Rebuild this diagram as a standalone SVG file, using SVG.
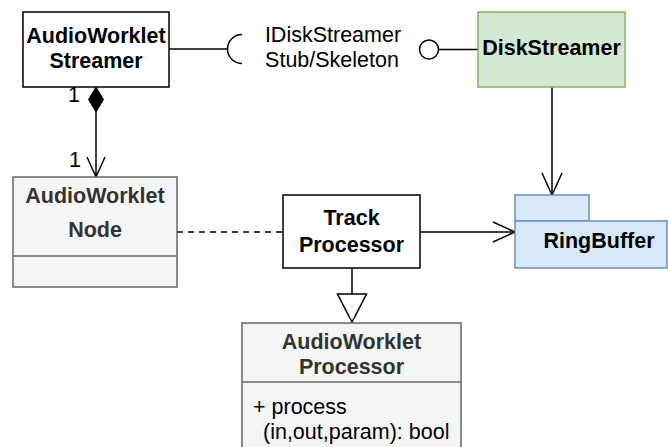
<svg xmlns="http://www.w3.org/2000/svg" width="668" height="447" viewBox="0 0 668 447">
  <style>
    text { font-family: "Liberation Sans", Arial, Helvetica, sans-serif; font-size: 21.5px; fill: #000; }
    .b { font-weight: bold; }
    .c { text-anchor: middle; }
    .grey { fill: #333333; }
    .box { fill: #ffffff; stroke: #000; stroke-width: 1.5; }
    .uml { fill: #f5f5f5; stroke: #666666; stroke-width: 1.5; }
    .green { fill: #d5e8d4; stroke: #82b366; stroke-width: 1.5; }
    .blue { fill: #dae8fc; stroke: #6c8ebf; stroke-width: 1.5; }
    .ln { fill: none; stroke: #000; stroke-width: 1.5; }
  </style>
  <rect width="668" height="447" fill="#ffffff"/>

  <!-- connectors -->
  <g id="connectors">
    <!-- required interface (socket) -->
    <line class="ln" x1="169" y1="49" x2="227" y2="49"/>
    <path class="ln" d="M242,34.5 A14.5,14.5 0 0 0 242,63.5"/>
    <!-- provided interface (lollipop) -->
    <circle class="ln" cx="429" cy="49.5" r="9.5" fill="#fff"/>
    <line class="ln" x1="438.5" y1="49.5" x2="478" y2="49.5"/>
    <!-- composition -->
    <polygon points="96,87 103.5,99.5 96,112 88.5,99.5" fill="#000" stroke="#000" stroke-width="1"/>
    <line class="ln" x1="96" y1="112" x2="96" y2="177"/>
    <polyline class="ln" points="87,157 96,177 105,157"/>
    <!-- DiskStreamer to RingBuffer -->
    <line class="ln" x1="552" y1="87" x2="552" y2="195"/>
    <polyline class="ln" points="542,173 552,195 562,173"/>
    <!-- TrackProcessor to RingBuffer -->
    <line class="ln" x1="420" y1="232" x2="515" y2="232"/>
    <polyline class="ln" points="493,222 515,232 493,242"/>
    <!-- dashed association -->
    <line class="ln" x1="177" y1="232" x2="283" y2="232" stroke-dasharray="6,5"/>
    <!-- generalization -->
    <line class="ln" x1="352" y1="268" x2="352" y2="294"/>
    <polygon class="ln" points="337.5,294 366.5,294 352,322" fill="#fff"/>
  </g>

  <!-- labels -->
  <text x="80" y="102" text-anchor="end">1</text>
  <text x="81" y="167" text-anchor="end">1</text>
  <text class="c" x="333" y="42">IDiskStreamer</text>
  <text class="c" x="332" y="67">Stub/Skeleton</text>

  <g id="audioWorkletStreamer">
    <rect class="box" x="23" y="12" width="146" height="75"/>
    <text class="b c" x="96" y="43">AudioWorklet</text>
    <text class="b c" x="96" y="68">Streamer</text>
  </g>

  <g id="diskStreamer">
    <rect class="green" x="478" y="12" width="147" height="75"/>
    <text class="b c" x="551.5" y="55">DiskStreamer</text>
  </g>

  <g id="audioWorkletNode">
    <rect class="uml" x="13" y="177" width="164" height="110"/>
    <line x1="13" y1="256" x2="177" y2="256" stroke="#666666" stroke-width="1.5"/>
    <text class="b c grey" x="95" y="203">AudioWorklet</text>
    <text class="b c grey" x="95" y="237">Node</text>
  </g>

  <g id="trackProcessor">
    <rect class="box" x="283" y="195" width="137" height="73"/>
    <text class="b c" x="351.5" y="225">Track</text>
    <text class="b c" x="351.5" y="252">Processor</text>
  </g>

  <g id="ringBuffer">
    <rect class="blue" x="515" y="195" width="74" height="26"/>
    <rect class="blue" x="515" y="221" width="152" height="47"/>
    <text class="b c" x="599" y="248">RingBuffer</text>
  </g>

  <g id="audioWorkletProcessor">
    <rect class="uml" x="242" y="323" width="219" height="140"/>
    <line x1="242" y1="382" x2="461" y2="382" stroke="#666666" stroke-width="1.5"/>
    <text class="b c grey" x="351.5" y="349">AudioWorklet</text>
    <text class="b c grey" x="351.5" y="374">Processor</text>
    <text x="253" y="414">+ process</text>
    <text x="263" y="439">(in,out,param): bool</text>
  </g>
</svg>
